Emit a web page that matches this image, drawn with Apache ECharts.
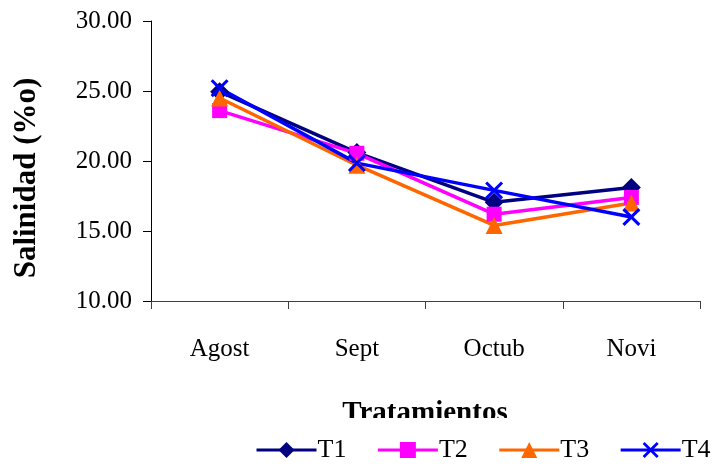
<!DOCTYPE html>
<html>
<head>
<meta charset="utf-8">
<script src="https://cdn.jsdelivr.net/npm/echarts@6/dist/echarts.min.js"></script>
<style>
  html, body { margin: 0; padding: 0; background: #fff; }
  #chart { width: 713px; height: 467px; }
</style>
</head>
<body>
<div id="chart"></div>
<script>
// Monthly salinity per treatment
const months = ['Agost', 'Sept', 'Octub', 'Novi'];
const t1 = [24.95, 20.6, 17.05, 18.1];
const t2 = [23.6, 20.55, 16.2, 17.4];
const t3 = [24.5, 19.7, 15.4, 17.0];
const t4 = [25.2, 19.85, 17.9, 16.0];
const yTicks = { min: 10, max: 30, step: 5 };

const FONT = "'Liberation Serif', 'Times New Roman', serif";
const xMark = 'path://M0,1.2 L1.2,0 L5,3.8 L8.8,0 L10,1.2 L6.2,5 L10,8.8 L8.8,10 L5,6.2 L1.2,10 L0,8.8 L3.8,5 Z';

function line(name, data, color, symbol, size) {
  return {
    name, type: 'line', data,
    symbol, symbolSize: size,
    lineStyle: { color, width: 3.5 },
    itemStyle: { color },
    emphasis: { disabled: true },
    animation: false
  };
}

const chart = echarts.init(document.getElementById('chart'));
chart.setOption({
  backgroundColor: '#fff',
  animation: false,
  grid: { left: 151, right: 13, top: 21, bottom: 166 },
  xAxis: {
    type: 'category',
    data: months,
    boundaryGap: true,
    axisLine: { lineStyle: { color: '#404040', width: 1 } },
    axisTick: { show: true, length: 8, lineStyle: { color: '#404040' } },
    axisLabel: { color: '#000', fontFamily: FONT, fontSize: 25, margin: 36 },
    splitLine: { show: false }
  },
  yAxis: {
    type: 'value',
    min: yTicks.min, max: yTicks.max, interval: yTicks.step,
    axisLine: { show: true, lineStyle: { color: '#000', width: 1 } },
    axisTick: { show: true, length: 8, lineStyle: { color: '#000' } },
    axisLabel: { color: '#000', fontFamily: FONT, fontSize: 25, margin: 19,
                 formatter: v => v.toFixed(2) },
    splitLine: { show: false }
  },
  legend: {
    left: 250, top: 432, width: 470,
    padding: 5,
    itemWidth: 60, itemHeight: 20, itemGap: 30,
    lineStyle: { width: 3 },
    textStyle: { color: '#000', fontFamily: FONT, fontSize: 26, padding: [0, 0, 0, -4] },
    data: ['T1', 'T2', 'T3', 'T4']
  },
  graphic: [
    {
      type: 'text', z: 0,
      x: 27, y: 178, rotation: Math.PI / 2,
      style: { text: 'Salinidad (%o)', font: 'bold 31px ' + FONT, fill: '#000',
               x: 0, y: 0, align: 'center', verticalAlign: 'middle' }
    },
    {
      type: 'text', z: 0,
      style: { text: 'Tratamientos', font: 'bold 29px ' + FONT, fill: '#000',
               x: 425, y: 414, align: 'center', verticalAlign: 'middle' }
    },
    {
      type: 'rect', z: 10,
      shape: { x: 300, y: 418, width: 260, height: 12 },
      style: { fill: '#fff' }
    }
  ],
  series: [
    line('T1', t1, '#000080', 'diamond', 19),
    line('T2', t2, '#FF00FF', 'rect', 15),
    line('T3', t3, '#FF6600', 'triangle', 17),
    line('T4', t4, '#0000FF', xMark, 18)
  ]
});
</script>
</body>
</html>
